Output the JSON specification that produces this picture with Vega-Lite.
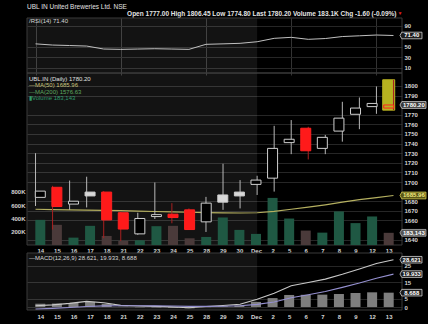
{
"$schema": "https://vega.github.io/schema/vega-lite/v6.json",
"autosize": {"type": "none"},
"width": 375, "height": 292,
"padding": {"left": 27, "top": 18, "right": 26, "bottom": 14},
"background": "#000000",
"title": {"text": "UBL IN United Breweries Ltd. NSE", "anchor": "start", "frame": "group", "fontSize": 6.5, "fontWeight": "normal", "color": "#e2e2e2", "font": "Liberation Sans", "offset": 0},
"datasets": {
"d": [
{"i":0,"day":"14","o":1684,"h":1730,"l":1675,"c":1690.5,"chg":"up","vol":378000,"ma":1671.6,"rsi":55.5,"macd":0.8,"sig":-1.2,"hist":2.0},
{"i":1,"day":"15","o":1694.5,"h":1696,"l":1650.5,"c":1674.5,"chg":"down","vol":303000,"ma":1671.3,"rsi":53.2,"macd":1.3,"sig":-0.8,"hist":2.1},
{"i":2,"day":"16","o":1677,"h":1701.5,"l":1671,"c":1680,"chg":"up","vol":111000,"ma":1671.0,"rsi":52.3,"macd":2.2,"sig":-0.3,"hist":2.5},
{"i":3,"day":"17","o":1689.5,"h":1705.5,"l":1673.5,"c":1685.5,"chg":"up","vol":288000,"ma":1670.7,"rsi":51.3,"macd":3.4,"sig":0.3,"hist":3.1},
{"i":4,"day":"18","o":1689.5,"h":1690.5,"l":1641.5,"c":1660.5,"chg":"down","vol":136000,"ma":1670.4,"rsi":45.6,"macd":2.6,"sig":0.7,"hist":1.9},
{"i":5,"day":"21","o":1668,"h":1669,"l":1638.5,"c":1651,"chg":"down","vol":61000,"ma":1670.1,"rsi":45.0,"macd":1.0,"sig":0.8,"hist":0.2},
{"i":6,"day":"22","o":1646,"h":1668,"l":1645,"c":1662,"chg":"up","vol":71000,"ma":1669.7,"rsi":45.6,"macd":0.6,"sig":0.8,"hist":-0.2},
{"i":7,"day":"23","o":1664,"h":1699.5,"l":1661.5,"c":1666,"chg":"up","vol":283000,"ma":1669.3,"rsi":46.2,"macd":0.4,"sig":0.7,"hist":-0.3},
{"i":8,"day":"24","o":1666.5,"h":1678,"l":1657,"c":1663,"chg":"down","vol":288000,"ma":1668.9,"rsi":45.6,"macd":0.1,"sig":0.6,"hist":-0.5},
{"i":9,"day":"25","o":1671,"h":1672.5,"l":1650,"c":1650.5,"chg":"down","vol":101000,"ma":1668.5,"rsi":45.0,"macd":-0.4,"sig":0.4,"hist":-0.8},
{"i":10,"day":"28","o":1658.5,"h":1684.5,"l":1648,"c":1678,"chg":"up","vol":121000,"ma":1668.1,"rsi":54.6,"macd":0.3,"sig":0.4,"hist":-0.1},
{"i":11,"day":"29","o":1686.5,"h":1719,"l":1671,"c":1679,"chg":"up","vol":414000,"ma":1667.8,"rsi":55.5,"macd":0.9,"sig":0.5,"hist":0.4},
{"i":12,"day":"30","o":1689.5,"h":1702,"l":1672.5,"c":1685.5,"chg":"up","vol":227000,"ma":1667.7,"rsi":56.5,"macd":1.7,"sig":0.8,"hist":0.9},
{"i":13,"day":"Dec","o":1697.5,"h":1706.5,"l":1686.5,"c":1702,"chg":"up","vol":167000,"ma":1668.0,"rsi":59.5,"macd":4.7,"sig":1.6,"hist":3.1},
{"i":14,"day":"2","o":1704,"h":1758.5,"l":1690,"c":1735,"chg":"up","vol":708000,"ma":1669.5,"rsi":66.0,"macd":8.4,"sig":3.0,"hist":5.4},
{"i":15,"day":"5","o":1741,"h":1764.5,"l":1729,"c":1744.5,"chg":"up","vol":398000,"ma":1671.6,"rsi":67.9,"macd":12.9,"sig":5.6,"hist":7.3},
{"i":16,"day":"6","o":1756,"h":1757.5,"l":1723.5,"c":1732.5,"chg":"down","vol":217000,"ma":1673.8,"rsi":64.1,"macd":14.8,"sig":7.4,"hist":7.4},
{"i":17,"day":"7","o":1735,"h":1749,"l":1729,"c":1746.5,"chg":"up","vol":186000,"ma":1676.2,"rsi":65.6,"macd":16.9,"sig":9.4,"hist":7.5},
{"i":18,"day":"8","o":1753,"h":1783.5,"l":1742,"c":1766.5,"chg":"up","vol":505000,"ma":1679.0,"rsi":69.4,"macd":19.8,"sig":11.9,"hist":7.9},
{"i":19,"day":"9","o":1770.5,"h":1788,"l":1755,"c":1777,"chg":"up","vol":329000,"ma":1681.6,"rsi":70.8,"macd":23.0,"sig":14.5,"hist":8.5},
{"i":20,"day":"12","o":1778.5,"h":1799.5,"l":1771,"c":1781.8,"chg":"up","vol":429000,"ma":1683.8,"rsi":72.3,"macd":26.3,"sig":17.4,"hist":8.9},
{"i":21,"day":"13","o":1777,"h":1806.45,"l":1774.8,"c":1780.2,"chg":"down","vol":183143,"ma":1685.96,"rsi":71.4,"macd":28.621,"sig":19.933,"hist":8.688}
],
"shade": [{"a":-0.5,"b":13}],
"frame": [{"a":-0.5,"b":21.5}]
},
"layer": [
{"data":{"name":"shade"},"mark":{"type":"rect","fill":"#ffffff","fillOpacity":0.075},
 "encoding":{"x":{"field":"a","type":"quantitative","scale":{"domain":[-0.5,21.5],"nice":false,"zero":false},"axis":null},"x2":{"field":"b"},
  "y":{"datum":0,"type":"quantitative","scale":{"domain":[0,104.7],"range":[55,0],"nice":false,"zero":false},"axis":null},"y2":{"datum":104.7}}},
{"data":{"name":"frame"},"mark":{"type":"rect","fill":"transparent","stroke":"#3a3a3a","strokeWidth":1},
 "encoding":{"x":{"field":"a","type":"quantitative","scale":{"domain":[-0.5,21.5],"nice":false,"zero":false},
   "axis":{"orient":"top","labels":false,"grid":false,"title":"Open 1777.00 High 1806.45 Low 1774.80 Last 1780.20 Volume 183.1K Chg -1.60 (-0.09%)","titleX":369,"titleAlign":"right","titleFontSize":6.5,"titleFontWeight":"bold","titleColor":"#e4e4e4","titleFont":"Liberation Sans","titlePadding":2,"titleBaseline":"bottom"}},
  "x2":{"field":"b"},
  "y":{"datum":0,"type":"quantitative","scale":{"domain":[0,104.7],"range":[55,0],"nice":false,"zero":false},"axis":{"orient":"right","values":[10,30,50,90],"grid":true,"title":null}},"y2":{"datum":104.7}}},
{"data":{"name":"d"},"mark":{"type":"line","color":"#c0c0c0","strokeWidth":1},
 "encoding":{"x":{"field":"i","type":"quantitative","scale":{"domain":[-0.5,21.5],"nice":false,"zero":false},
   "axis":{"orient":"top","labels":false,"grid":false,"title":"▼","titleAnchor":"end","titleAlign":"right","titleFontSize":5,"titleColor":"#e02020","titlePadding":2.5,"titleBaseline":"bottom"}},
  "y":{"field":"rsi","type":"quantitative","scale":{"domain":[0,104.7],"range":[55,0],"nice":false,"zero":false},"axis":null}}},
{"data":{"values":[{"t":"/RSI(14) 71.40"}]},"mark":{"type":"text","align":"left","baseline":"top","dx":2,"dy":0,"fontSize":6,"color":"#d8d8d8"},
 "encoding":{"x":{"datum":-0.5,"type":"quantitative","scale":{"domain":[-0.5,21.5],"nice":false,"zero":false},"axis":null},
  "y":{"datum":104.7,"type":"quantitative","scale":{"domain":[0,104.7],"range":[55,0],"nice":false,"zero":false},"axis":null},"text":{"field":"t"}}},
{"data":{"values":[{"v":71.4,"t":"71.40"}]},"mark":{"type":"point","shape":"M-1,0L-0.84,-0.3L1,-0.3L1,0.3L-0.84,0.3Z","size":484,"filled":true,"opacity":1,"fill":"#1e1e1e","stroke":"#d0d0d0","strokeWidth":0.8,"xOffset":17.5},
 "encoding":{"x":{"datum":21,"type":"quantitative","scale":{"domain":[-0.5,21.5],"nice":false,"zero":false},"axis":null},
  "y":{"field":"v","type":"quantitative","scale":{"domain":[0,104.7],"range":[55,0],"nice":false,"zero":false},"axis":null}}},
{"data":{"values":[{"v":71.4,"t":"71.40"}]},"mark":{"type":"text","dx":18.3,"align":"center","baseline":"middle","fontSize":6,"fontWeight":"bold","color":"#ffffff"},
 "encoding":{"x":{"datum":21,"type":"quantitative","scale":{"domain":[-0.5,21.5],"nice":false,"zero":false},"axis":null},
  "y":{"field":"v","type":"quantitative","scale":{"domain":[0,104.7],"range":[55,0],"nice":false,"zero":false},"axis":null},"text":{"field":"t"}}},

{"data":{"name":"shade"},"mark":{"type":"rect","fill":"#ffffff","fillOpacity":0.075},
 "encoding":{"x":{"field":"a","type":"quantitative","scale":{"domain":[-0.5,21.5],"nice":false,"zero":false},"axis":null},"x2":{"field":"b"},
  "y":{"datum":1634.4,"type":"quantitative","scale":{"domain":[1634.4,1813.5],"range":[227,55],"nice":false,"zero":false},"axis":null},"y2":{"datum":1813.5}}},
{"data":{"name":"frame"},"mark":{"type":"rect","fill":"transparent","stroke":"#3a3a3a","strokeWidth":1},
 "encoding":{"x":{"field":"a","type":"quantitative","scale":{"domain":[-0.5,21.5],"nice":false,"zero":false},"axis":null},"x2":{"field":"b"},
  "y":{"datum":1634.4,"type":"quantitative","scale":{"domain":[1634.4,1813.5],"range":[227,55],"nice":false,"zero":false},
   "axis":{"orient":"right","values":[1640,1660,1670,1680,1700,1710,1720,1730,1740,1750,1760,1770,1790,1800],"format":"d","grid":true,"title":null}},"y2":{"datum":1813.5}}},
{"data":{"name":"d"},"mark":{"type":"bar","width":10},
 "encoding":{"x":{"field":"i","type":"quantitative","scale":{"domain":[-0.5,21.5],"nice":false,"zero":false},
   "axis":{"orient":"bottom","offset":-65,"values":[0,1,2,3,4,5,6,7,8,9,10,11,12,13,14,15,16,17,18,19,20,21],"labelExpr":"['14','15','16','17','18','21','22','23','24','25','28','29','30','Dec','2','5','6','7','8','9','12','13'][datum.value]","grid":false,"labelPadding":2,"title":null}},
  "y":{"field":"vol","type":"quantitative","scale":{"domain":[0,2586000],"range":[227,55],"nice":false,"zero":true},
   "axis":{"orient":"left","values":[200000,400000,600000,800000],"labelExpr":"(datum.value/1000) + 'K'","grid":false,"title":null}},
  "color":{"field":"chg","type":"nominal","scale":{"domain":["up","down"],"range":["#1f5843","#4a3a3a"]},"legend":null}}},
{"data":{"name":"d"},"mark":{"type":"line","color":"#b5b060","strokeWidth":1.2},
 "encoding":{"x":{"field":"i","type":"quantitative","scale":{"domain":[-0.5,21.5],"nice":false,"zero":false},"axis":null},
  "y":{"field":"ma","type":"quantitative","scale":{"domain":[1634.4,1813.5],"range":[227,55],"nice":false,"zero":false},"axis":null}}},
{"data":{"name":"d"},"transform":[{"filter":"datum.i == 21"}],"mark":{"type":"bar","width":12,"color":"#b8b220","stroke":"#b8b220","strokeWidth":1},
 "encoding":{"x":{"field":"i","type":"quantitative","scale":{"domain":[-0.5,21.5],"nice":false,"zero":false},"axis":null},
  "y":{"field":"l","type":"quantitative","scale":{"domain":[1634.4,1813.5],"range":[227,55],"nice":false,"zero":false},"axis":null},"y2":{"field":"h"}}},
{"data":{"name":"d"},"mark":{"type":"rule","strokeWidth":1},
 "encoding":{"x":{"field":"i","type":"quantitative","scale":{"domain":[-0.5,21.5],"nice":false,"zero":false},"axis":null},
  "y":{"field":"l","type":"quantitative","scale":{"domain":[1634.4,1813.5],"range":[227,55],"nice":false,"zero":false},"axis":null},"y2":{"field":"h"},
  "color":{"field":"chg","type":"nominal","scale":{"domain":["up","down"],"range":["#b8b8b8","#a82020"]},"legend":null}}},
{"data":{"name":"d"},"mark":{"type":"bar","width":10,"strokeWidth":1},
 "encoding":{"x":{"field":"i","type":"quantitative","scale":{"domain":[-0.5,21.5],"nice":false,"zero":false},"axis":null},
  "y":{"field":"o","type":"quantitative","scale":{"domain":[1634.4,1813.5],"range":[227,55],"nice":false,"zero":false},"axis":null},"y2":{"field":"c"},
  "stroke":{"field":"chg","type":"nominal","scale":{"domain":["up","down"],"range":["#cfcfcf","#ff2020"]},"legend":null},
  "fill":{"field":"chg","type":"nominal","scale":{"domain":["up","down"],"range":["#d8d8d8","#ff1a1a"]},"legend":null,
   "condition":[{"test":"datum.i == 21","value":"#b8b220"},{"test":"datum.c >= datum.o","value":"#000000"}]}}},
{"data":{"values":[{"k":"a","t":"UBL.IN (Daily) 1780.20"},{"k":"b","t":"—MA(50) 1685.96"},{"k":"c","t":"—MA(200) 1576.63"},{"k":"d","t":"▮Volume 183,143"}]},
 "mark":{"type":"text","align":"left","baseline":"middle","dx":2,"fontSize":6},
 "encoding":{"x":{"datum":-0.5,"type":"quantitative","scale":{"domain":[-0.5,21.5],"nice":false,"zero":false},"axis":null},
  "y":{"field":"k","type":"nominal","scale":{"type":"point","domain":["a","b","c","d"],"range":[61,80],"padding":0},"axis":null},
  "text":{"field":"t"},
  "color":{"field":"k","type":"nominal","scale":{"domain":["a","b","c","d"],"range":["#e0e0e0","#c9c47c","#5fa860","#2f9a6c"]},"legend":null}}},
{"data":{"values":[{"s":"p","v":1780.2,"t":"1780.20"},{"s":"m","v":1685.96,"t":"1685.96"}]},
 "mark":{"type":"point","shape":"M-1,0L-0.86,-0.26L1,-0.26L1,0.26L-0.86,0.26Z","size":676,"filled":true,"opacity":1,"strokeWidth":0.8,"xOffset":19.5},
 "encoding":{"x":{"datum":21,"type":"quantitative","scale":{"domain":[-0.5,21.5],"nice":false,"zero":false},"axis":null},
  "y":{"field":"v","type":"quantitative","scale":{"domain":[1634.4,1813.5],"range":[227,55],"nice":false,"zero":false},"axis":null},
  "fill":{"field":"s","type":"nominal","scale":{"domain":["p","m"],"range":["#3a3a3a","#5c5818"]},"legend":null},
  "stroke":{"field":"s","type":"nominal","scale":{"domain":["p","m"],"range":["#d8d8d8","#d8d050"]},"legend":null}}},
{"data":{"values":[{"s":"p","v":1780.2,"t":"1780.20"},{"s":"m","v":1685.96,"t":"1685.96"}]},
 "mark":{"type":"text","dx":20.4,"align":"center","baseline":"middle","fontSize":6,"fontWeight":"bold"},
 "encoding":{"x":{"datum":21,"type":"quantitative","scale":{"domain":[-0.5,21.5],"nice":false,"zero":false},"axis":null},
  "y":{"field":"v","type":"quantitative","scale":{"domain":[1634.4,1813.5],"range":[227,55],"nice":false,"zero":false},"axis":null},
  "text":{"field":"t"},
  "color":{"field":"s","type":"nominal","scale":{"domain":["p","m"],"range":["#ffffff","#f2ea80"]},"legend":null}}},
{"data":{"values":[{"v":183143,"t":"183,143"}]},
 "mark":{"type":"point","shape":"M-1,0L-0.86,-0.26L1,-0.26L1,0.26L-0.86,0.26Z","size":676,"filled":true,"opacity":1,"fill":"#555555","stroke":"#b0b0b0","strokeWidth":0.8,"xOffset":19.5},
 "encoding":{"x":{"datum":21,"type":"quantitative","scale":{"domain":[-0.5,21.5],"nice":false,"zero":false},"axis":null},
  "y":{"field":"v","type":"quantitative","scale":{"domain":[0,2586000],"range":[227,55],"nice":false,"zero":true},"axis":null}}},
{"data":{"values":[{"v":183143,"t":"183,143"}]},
 "mark":{"type":"text","dx":20.4,"align":"center","baseline":"middle","fontSize":6,"fontWeight":"bold","color":"#ffffff"},
 "encoding":{"x":{"datum":21,"type":"quantitative","scale":{"domain":[-0.5,21.5],"nice":false,"zero":false},"axis":null},
  "y":{"field":"v","type":"quantitative","scale":{"domain":[0,2586000],"range":[227,55],"nice":false,"zero":true},"axis":null},"text":{"field":"t"}}},

{"data":{"name":"shade"},"mark":{"type":"rect","fill":"#ffffff","fillOpacity":0.075},
 "encoding":{"x":{"field":"a","type":"quantitative","scale":{"domain":[-0.5,21.5],"nice":false,"zero":false},"axis":null},"x2":{"field":"b"},
  "y":{"datum":-1.8,"type":"quantitative","scale":{"domain":[-1.8,32.7],"range":[292,235],"nice":false,"zero":false},"axis":null},"y2":{"datum":32.7}}},
{"data":{"name":"frame"},"mark":{"type":"rect","fill":"transparent","stroke":"#3a3a3a","strokeWidth":1},
 "encoding":{"x":{"field":"a","type":"quantitative","scale":{"domain":[-0.5,21.5],"nice":false,"zero":false},
   "axis":{"orient":"bottom","labels":false,"values":[0,5,10,15,20],"grid":true,"gridColor":"#333333","title":null}},"x2":{"field":"b"},
  "y":{"datum":-1.8,"type":"quantitative","scale":{"domain":[-1.8,32.7],"range":[292,235],"nice":false,"zero":false},
   "axis":{"orient":"right","values":[0,5,15,25],"grid":true,"title":null}},"y2":{"datum":32.7}}},
{"data":{"name":"d"},"mark":{"type":"bar","width":10,"color":"#7e7e7e"},
 "encoding":{"x":{"field":"i","type":"quantitative","scale":{"domain":[-0.5,21.5],"nice":false,"zero":false},
   "axis":{"orient":"bottom","values":[0,1,2,3,4,5,6,7,8,9,10,11,12,13,14,15,16,17,18,19,20,21],"labelExpr":"['14','15','16','17','18','21','22','23','24','25','28','29','30','Dec','2','5','6','7','8','9','12','13'][datum.value]","grid":false,"labelPadding":3,"title":null}},
  "y":{"field":"hist","type":"quantitative","scale":{"domain":[-1.8,32.7],"range":[292,235],"nice":false,"zero":true},"axis":null}}},
{"data":{"name":"d"},"mark":{"type":"line","color":"#c8c8c8","strokeWidth":1.1},
 "encoding":{"x":{"field":"i","type":"quantitative","scale":{"domain":[-0.5,21.5],"nice":false,"zero":false},"axis":null},
  "y":{"field":"macd","type":"quantitative","scale":{"domain":[-1.8,32.7],"range":[292,235],"nice":false,"zero":false},"axis":null}}},
{"data":{"name":"d"},"mark":{"type":"line","color":"#9590d0","strokeWidth":1.1},
 "encoding":{"x":{"field":"i","type":"quantitative","scale":{"domain":[-0.5,21.5],"nice":false,"zero":false},"axis":null},
  "y":{"field":"sig","type":"quantitative","scale":{"domain":[-1.8,32.7],"range":[292,235],"nice":false,"zero":false},"axis":null}}},
{"data":{"values":[{"t":"—MACD(12,26,9) 28.621, 19.933, 8.688"}]},"mark":{"type":"text","align":"left","baseline":"top","dx":2,"dy":2,"fontSize":6,"color":"#d8d8d8"},
 "encoding":{"x":{"datum":-0.5,"type":"quantitative","scale":{"domain":[-0.5,21.5],"nice":false,"zero":false},"axis":null},
  "y":{"datum":32.7,"type":"quantitative","scale":{"domain":[-1.8,32.7],"range":[292,235],"nice":false,"zero":false},"axis":null},"text":{"field":"t"}}},
{"data":{"values":[{"v":28.621,"t":"28.621"},{"v":19.933,"t":"19.933"},{"v":8.688,"t":"8.688"}]},
 "mark":{"type":"point","shape":"M-1,0L-0.84,-0.3L1,-0.3L1,0.3L-0.84,0.3Z","size":484,"filled":true,"opacity":1,"fill":"#1c1c1c","stroke":"#d0d0d0","strokeWidth":0.8,"xOffset":17.5},
 "encoding":{"x":{"datum":21,"type":"quantitative","scale":{"domain":[-0.5,21.5],"nice":false,"zero":false},"axis":null},
  "y":{"field":"v","type":"quantitative","scale":{"domain":[-1.8,32.7],"range":[292,235],"nice":false,"zero":false},"axis":null}}},
{"data":{"values":[{"v":28.621,"t":"28.621"},{"v":19.933,"t":"19.933"},{"v":8.688,"t":"8.688"}]},
 "mark":{"type":"text","dx":18.3,"align":"center","baseline":"middle","fontSize":6,"fontWeight":"bold","color":"#ffffff"},
 "encoding":{"x":{"datum":21,"type":"quantitative","scale":{"domain":[-0.5,21.5],"nice":false,"zero":false},"axis":null},
  "y":{"field":"v","type":"quantitative","scale":{"domain":[-1.8,32.7],"range":[292,235],"nice":false,"zero":false},"axis":null},"text":{"field":"t"}}}
],
"resolve": {"scale": {"x":"independent","y":"independent","color":"independent","fill":"independent","stroke":"independent"}},
"config": {
 "view": {"stroke": null},
 "axis": {"labelColor":"#d4d4d4","labelFontSize":6,"labelFontWeight":"bold","labelFont":"Liberation Sans","ticks":false,"domain":false,"gridColor":"#262626","labelPadding":2},
 "text": {"font":"Liberation Sans"}
}
}
